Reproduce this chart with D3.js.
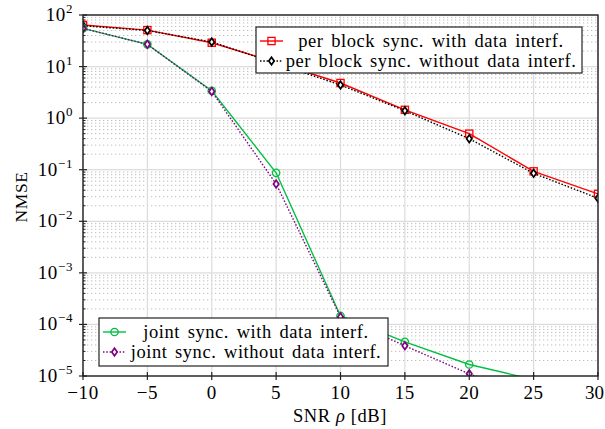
<!DOCTYPE html>
<html><head><meta charset="utf-8">
<script src="https://cdn.jsdelivr.net/npm/d3@7"></script>
<style>
body{margin:0;background:#fff;}
text{font-family:"Liberation Serif","DejaVu Serif",serif;fill:#000;}
</style></head>
<body><svg id="c" width="605" height="429"></svg>
<script>
const snr = [-10,-5,0,5,10,15,20,25,30];
const perBlockWith    = [64,51,29,12,4.8,1.45,0.5,0.093,0.034];
const perBlockWithout = [62,50,30,11.5,4.4,1.39,0.40,0.085,0.028];
const jointWith       = [55,27,3.4,0.087,1.46e-4,4.6e-5,1.67e-5,8.5e-6,5.5e-6];
const jointWithout    = [55,27,3.3,0.053,1.4e-4,3.85e-5,1.1e-5,4e-6,2e-6];
const xTicks = [-10,-5,0,5,10,15,20,25,30];
const yExps = [-5,-4,-3,-2,-1,0,1,2];
const legendTop = ["per block sync. with data interf.","per block sync. without data interf."];
const legendBottom = ["joint sync. with data interf.","joint sync. without data interf."];

const L=83,R=598,T=15,B=376;
const svg=d3.select("#c");
const x=d3.scaleLinear().domain([-10,30]).range([L,R]);
const y=d3.scaleLog().domain([1e-5,1e2]).range([B,T]);

svg.append("defs").append("clipPath").attr("id","clip").append("rect")
  .attr("x",L).attr("y",T).attr("width",R-L).attr("height",B-T);

const g=svg.append("g");
const minors=[];
yExps.forEach(e=>{ if(e<2) for(let k=2;k<=9;k++) minors.push(k*Math.pow(10,e)); });
g.selectAll(".mg").data(minors).enter().append("line")
  .attr("x1",L).attr("x2",R).attr("y1",d=>y(d)).attr("y2",d=>y(d))
  .attr("stroke","#bdbdbd").attr("stroke-width",1).attr("stroke-dasharray","1.3,2.7");
g.selectAll(".hg").data(yExps).enter().append("line")
  .attr("x1",L).attr("x2",R).attr("y1",d=>y(Math.pow(10,d))).attr("y2",d=>y(Math.pow(10,d)))
  .attr("stroke","#dcdcdc").attr("stroke-width",1.2);
g.selectAll(".vg").data(xTicks).enter().append("line")
  .attr("y1",T).attr("y2",B).attr("x1",d=>x(d)).attr("x2",d=>x(d))
  .attr("stroke","#dcdcdc").attr("stroke-width",1.2);

const series=[
 {v:perBlockWith,color:"#ff0000",dash:null,marker:"square"},
 {v:perBlockWithout,color:"#000000",dash:"1.5,1.8",marker:"diamond"},
 {v:jointWith,color:"#00c040",dash:null,marker:"circle"},
 {v:jointWithout,color:"#800080",dash:"1.5,1.8",marker:"diamond"}
];
const line=d3.line().x(d=>x(d[0])).y(d=>y(d[1]));
const plot=svg.append("g").attr("clip-path","url(#clip)");
function drawMarker(sel,type,color){
  if(type==="square") sel.append("rect").attr("x",-3.6).attr("y",-3.6).attr("width",7.2).attr("height",7.2)
     .attr("fill","none").attr("stroke",color).attr("stroke-width",1.3);
  else if(type==="circle") sel.append("circle").attr("r",3.7).attr("fill","none").attr("stroke",color).attr("stroke-width",1.3);
  else sel.append("path").attr("d","M0,-3.8L2.7,0L0,3.8L-2.7,0Z").attr("fill","#fff").attr("stroke",color).attr("stroke-width",1.7);
}
series.forEach(s=>{
  const pts=snr.map((d,i)=>[d,s.v[i]]);
  plot.append("path").attr("d",line(pts)).attr("fill","none").attr("stroke",s.color)
    .attr("stroke-width",1.4).attr("stroke-dasharray",s.dash);
  pts.forEach(p=>{
    const m=plot.append("g").attr("transform",`translate(${x(p[0])},${y(p[1])})`);
    drawMarker(m,s.marker,s.color);
  });
});

svg.append("rect").attr("x",L).attr("y",T).attr("width",R-L).attr("height",B-T)
  .attr("fill","none").attr("stroke","#222").attr("stroke-width",1.4);
yExps.forEach(e=>{
  const yy=y(Math.pow(10,e));
  svg.append("line").attr("x1",L-4).attr("x2",L+4).attr("y1",yy).attr("y2",yy).attr("stroke","#222").attr("stroke-width",1.2);
  const t=svg.append("text").attr("x",73).attr("y",yy+6).attr("text-anchor","end").attr("font-size",19).attr("letter-spacing",0.6);
  t.append("tspan").text("10");
  t.append("tspan").attr("dy",-8).attr("font-size",13).text(e<0?"\u2212"+(-e):String(e));
});
minors.forEach(m=>{
  svg.append("line").attr("x1",L).attr("x2",L+2.5).attr("y1",y(m)).attr("y2",y(m)).attr("stroke","#222").attr("stroke-width",1);
});
xTicks.forEach((d,i)=>{
  svg.append("line").attr("x1",x(d)).attr("x2",x(d)).attr("y1",B-4).attr("y2",B+4).attr("stroke","#222").attr("stroke-width",1.2);
  const last=i===xTicks.length-1;
  svg.append("text").attr("x",last?604:x(d)).attr("y",399).attr("text-anchor",last?"end":"middle")
    .attr("font-size",19).attr("letter-spacing",last?0:0.6)
    .text(d<0?"\u2212"+(-d):String(d));
});
const xl=svg.append("text").attr("x",340).attr("y",422).attr("text-anchor","middle").attr("font-size",18.5).attr("letter-spacing",0.6);
xl.append("tspan").text("SNR ");
xl.append("tspan").attr("font-style","italic").text("ρ");
xl.append("tspan").text(" [dB]");
svg.append("text").attr("transform","translate(27,197) rotate(-90)").attr("text-anchor","middle").attr("font-size",17.5).attr("letter-spacing",0.6).text("NMSE");

function legend(x0,y0,w,h,rows,cx){
  svg.append("rect").attr("x",x0).attr("y",y0).attr("width",w).attr("height",h)
    .attr("fill","#fff").attr("stroke","#222").attr("stroke-width",1.2);
  rows.forEach((r,i)=>{
    const yy=y0+14+i*20;
    svg.append("line").attr("x1",x0+4).attr("x2",x0+27).attr("y1",yy).attr("y2",yy)
      .attr("stroke",r.color).attr("stroke-width",1.4).attr("stroke-dasharray",r.dash);
    const m=svg.append("g").attr("transform",`translate(${x0+15.5},${yy})`);
    drawMarker(m,r.marker,r.color);
    svg.append("text").attr("x",cx).attr("y",yy+5.5).attr("text-anchor","middle").attr("font-size",18.5)
      .attr("letter-spacing",0.55).attr("word-spacing",2.5).text(r.label);
  });
}
legend(256,27,326,46,[
  Object.assign({},series[0],{label:legendTop[0]}),
  Object.assign({},series[1],{label:legendTop[1]})],431);
legend(99,318,289,48,[
  Object.assign({},series[2],{label:legendBottom[0]}),
  Object.assign({},series[3],{label:legendBottom[1]})],256);
</script></body></html>
